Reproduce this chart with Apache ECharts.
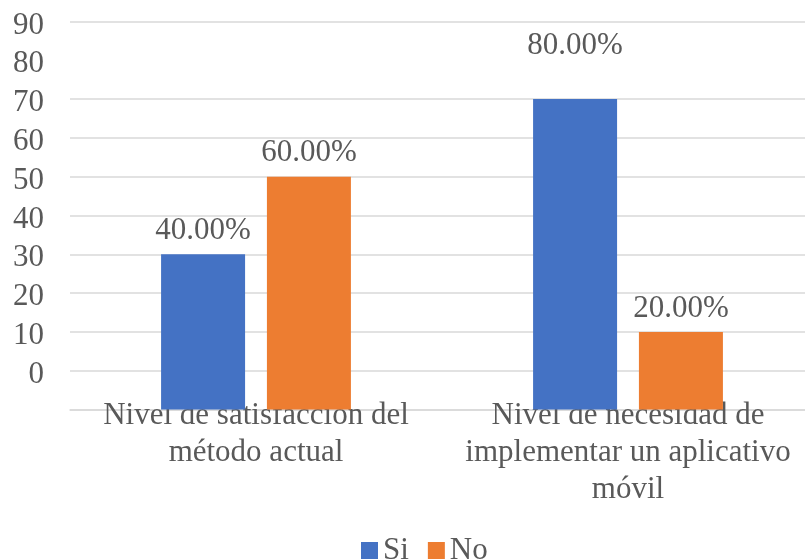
<!DOCTYPE html>
<html>
<head>
<meta charset="utf-8">
<script src="https://cdn.jsdelivr.net/npm/echarts@6/dist/echarts.min.js"></script>
<style>
  html, body { margin: 0; padding: 0; background: #fff; }
  #chart { width: 805px; height: 560px; }
</style>
</head>
<body>
<div id="chart"></div>
<script>
// Survey results: satisfaction with the current method vs. need for a mobile app
const categories = ['Nivel de satisfacción del\nmétodo actual', 'Nivel de necesidad de\nimplementar un aplicativo\nmóvil'];
const seriesNames = ['Si', 'No'];
const siValues = [40, 80];
const noValues = [60, 20];
// Value-axis tick labels, one per gridline from the bottom (0, 10, ..., 100)
const yTickLabels = ['', '0', '10', '20', '30', '40', '50', '60', '70', '80', '90'];

const FONT = '"Liberation Serif", "Times New Roman", serif';
const TEXT = '#595959';
const GRID = '#d9d9d9';
const FS = 31;

// Gridline colours per tick: the line at 90 is not drawn
const splitColors = yTickLabels.map((_, i) => (i === 9 ? 'rgba(0,0,0,0)' : GRID));

const chart = echarts.init(document.getElementById('chart'), null, { renderer: 'canvas' });

const labelStyle = {
  show: true,
  position: 'top',
  distance: 8,
  fontFamily: FONT,
  fontSize: FS,
  color: TEXT,
  formatter: (p) => p.value.toFixed(2) + '%'
};

chart.setOption({
  animation: false,
  backgroundColor: '#ffffff',
  textStyle: { fontFamily: FONT },
  // the plot area runs a little past the right edge of the canvas
  grid: { left: 70, width: 744, top: 21.5, bottom: 150.5, outerBoundsMode: 'none', containLabel: false },
  legend: {
    data: seriesNames,
    left: 356,
    top: 530,
    itemWidth: 17,
    itemHeight: 17,
    itemGap: 19,
    icon: 'rect',
    textStyle: { fontFamily: FONT, fontSize: FS, color: TEXT, padding: [0, 0, 0, 0] }
  },
  xAxis: {
    type: 'category',
    data: categories,
    axisLine: { show: true, lineStyle: { color: GRID, width: 1.5 } },
    axisTick: { show: false },
    axisLabel: {
      interval: 0,
      margin: -12,
      fontFamily: FONT,
      fontSize: FS,
      lineHeight: 37,
      color: TEXT,
      align: 'center'
    }
  },
  yAxis: {
    type: 'value',
    min: 0,
    max: 100,
    interval: 10,
    axisLine: { show: false },
    axisTick: { show: false },
    splitLine: { show: true, lineStyle: { color: splitColors, width: 1.5 } },
    axisLabel: {
      fontFamily: FONT,
      fontSize: FS,
      color: TEXT,
      margin: 26,
      verticalAlign: 'top',
      lineHeight: 8,
      formatter: (v) => yTickLabels[Math.round(v / 10)]
    }
  },
  series: [
    {
      name: seriesNames[0],
      type: 'bar',
      data: siValues.map((v, i) => (i === 1 ? { value: v, label: { distance: 38 } } : v)),
      barWidth: 84,
      barGap: '26%',
      itemStyle: { color: '#4472C4' },
      label: labelStyle
    },
    {
      name: seriesNames[1],
      type: 'bar',
      data: noValues,
      barWidth: 84,
      itemStyle: { color: '#ED7D31' },
      label: labelStyle
    }
  ]
});
</script>
</body>
</html>
